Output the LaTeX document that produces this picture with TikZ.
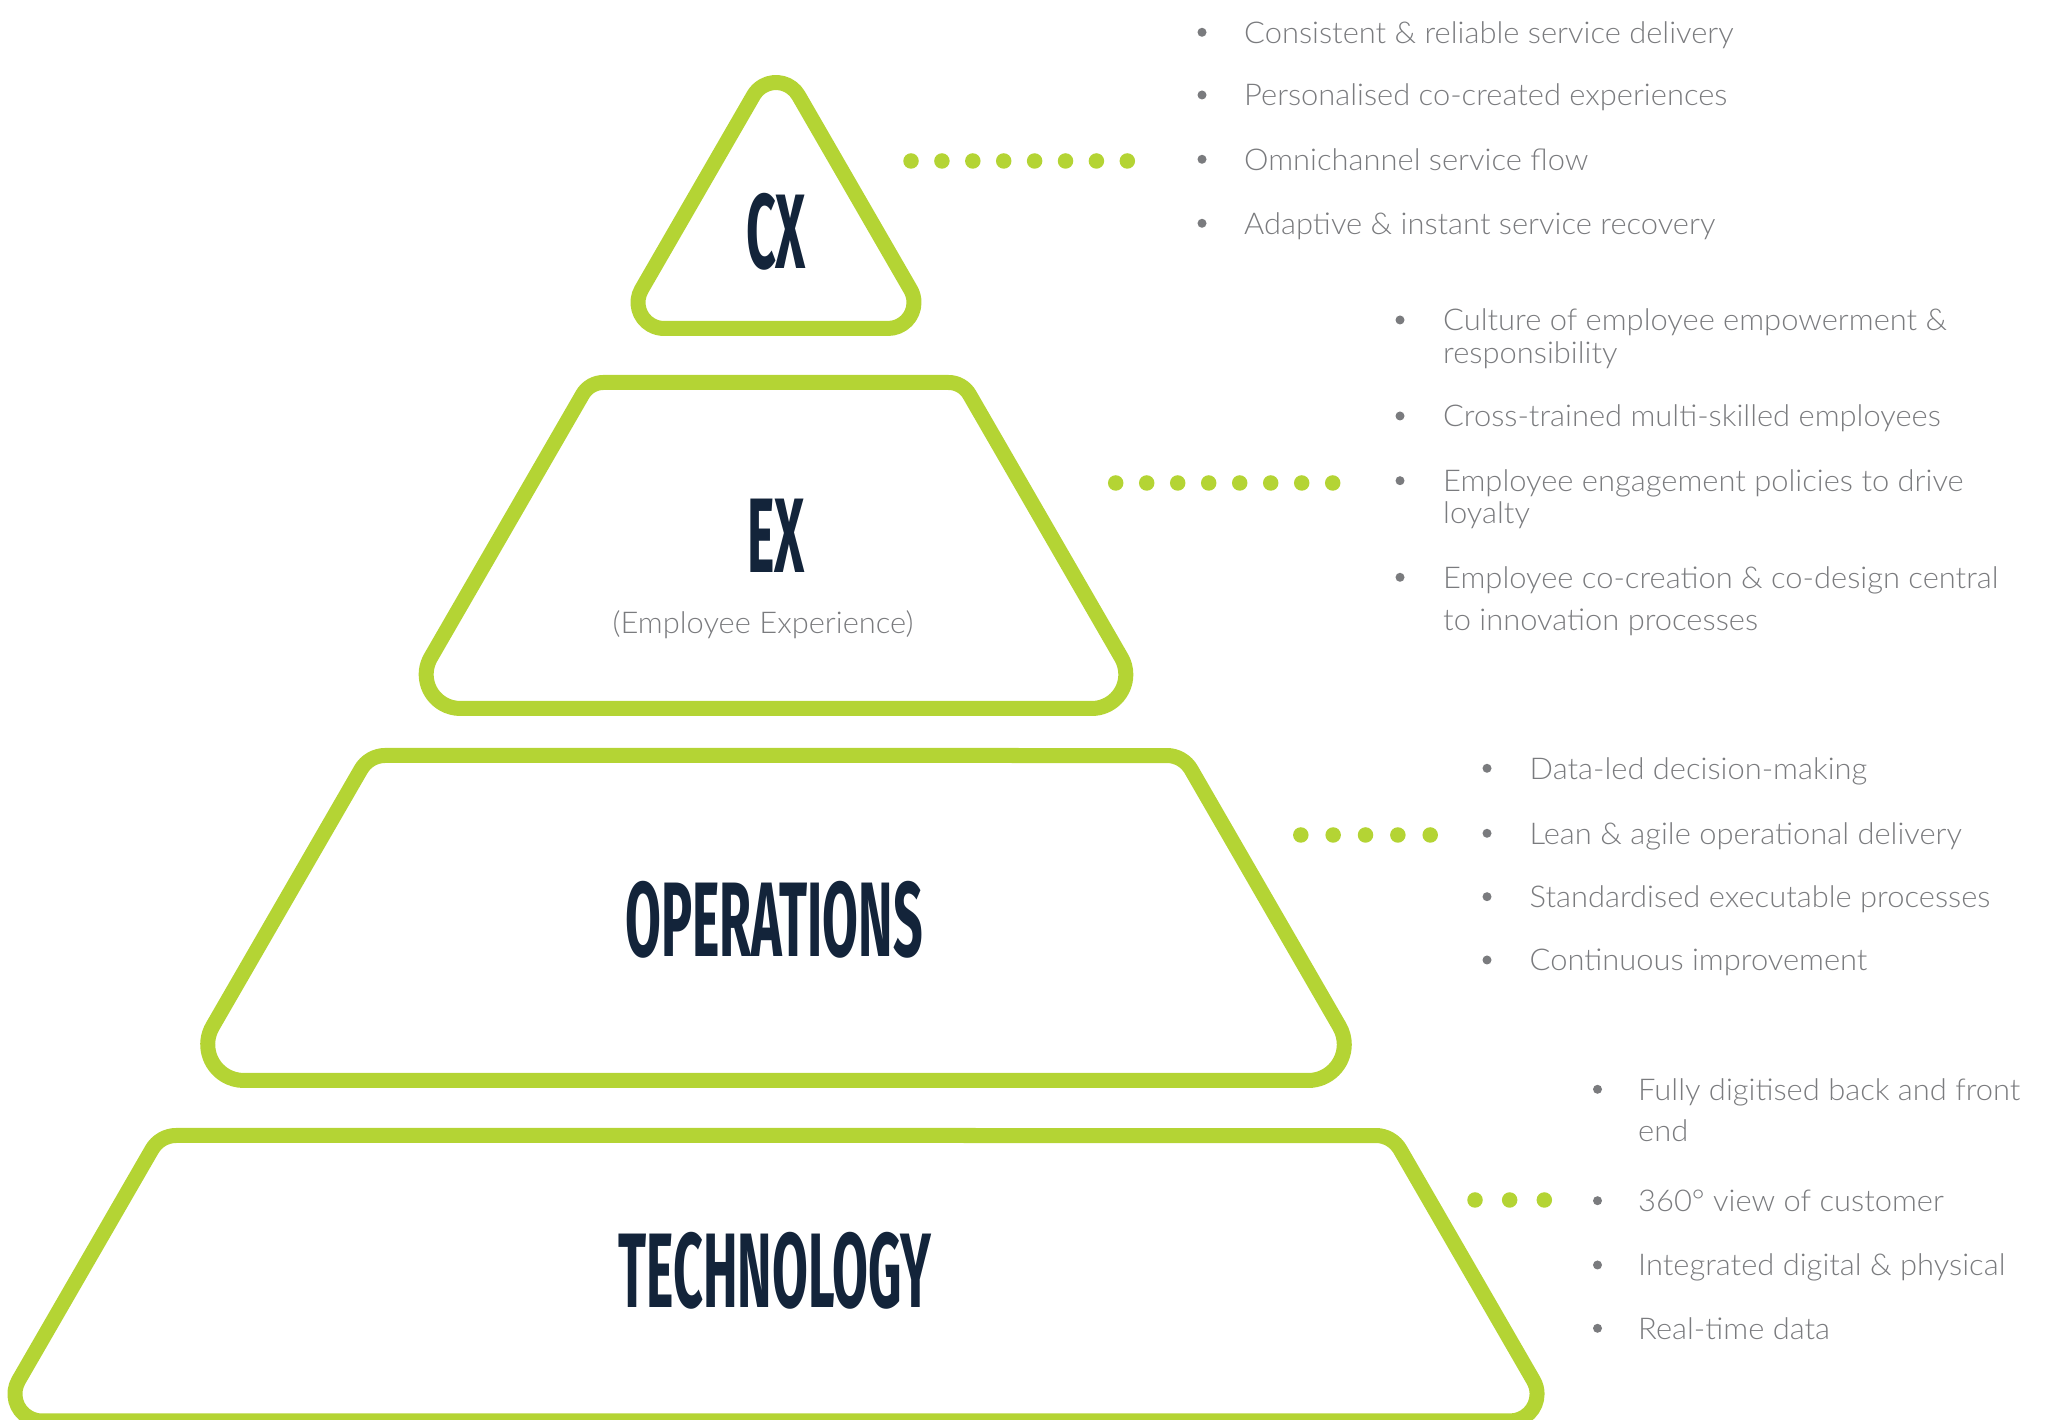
\documentclass[tikz,border=0pt]{standalone}
\usepackage{fontspec}
\setmainfont{Lato}
\newfontfamily\headfont[FakeStretch=0.49]{Fira Sans}
\IfFontExistsTF{Lato Light}
  {\newfontfamily\listfont[FakeStretch=1.03]{Lato Light}}
  {\newfontfamily\listfont[FakeStretch=1.03]{Lato}}

\definecolor{pyrgreen}{RGB}{180,212,52}
\definecolor{pyrnavy}{RGB}{19,36,58}
\definecolor{listgrey}{RGB}{122,123,126}

\tikzset{
  band/.style={draw=pyrgreen, line width=15pt, line join=round},
  heading/.style={font=\headfont\bfseries\fontsize{106}{106}\selectfont, text=pyrnavy, inner sep=0pt},
  listline/.style={font=\listfont\fontsize{30}{33}\selectfont, text=listgrey, anchor=base west, inner sep=0pt},
  leader/.style={draw=pyrgreen, line width=15.5pt, line cap=round},
  bulletdot/.style={fill=listgrey},
}

\begin{document}
\begin{tikzpicture}[x=1pt, y=1pt]
    \useasboundingbox (0,0) rectangle (2046,1420);
    \clip (0,0) rectangle (2046,1420);

    % top of the pyramid
    \draw [band] (664,1091.5) -- (888,1091.5) arc[start angle=-90, end angle=30, radius=26pt]
        -- ++(120:224pt) arc[start angle=30, end angle=150, radius=26pt]
        -- ++(240:224pt) arc[start angle=150, end angle=270, radius=26pt] -- cycle;

    % the three lower bands: top y / bottom y / top half width / top radius / bottom radius
    \foreach \ytop/\ybot/\wtop/\rtop/\rbot in {1037.5/711.5/186.5/24/34, 664.5/339.5/407/28/36, 284.5/-1/616/28/27} {
        \pgfmathsetmacro\wbot{\wtop+0.57735*(\ytop-\ybot)}
        \pgfmathsetmacro\ctop{0.57735*\rtop}
        \pgfmathsetmacro\cbot{1.73205*\rbot}
        \pgfmathsetmacro\slen{(\ytop-\ybot)/0.86603-\ctop-\cbot}
        \draw [band] ({776-\wbot+\cbot},\ybot) -- ({776+\wbot-\cbot},\ybot)
            arc[start angle=-90, end angle=30, radius=\rbot pt] -- ++(120:\slen pt)
            arc[start angle=30, end angle=90, radius=\rtop pt] -- ({776-\wtop+\ctop},\ytop)
            arc[start angle=90, end angle=150, radius=\rtop pt] -- ++(240:\slen pt)
            arc[start angle=150, end angle=270, radius=\rbot pt] -- cycle;
    }

    \node [heading] (cx) at (776,1188) {CX};
    \node [heading] (ex) at (776,884) {EX};
    \node [font=\listfont\fontsize{30}{33}\selectfont, text=listgrey, inner sep=0pt] (exfull) at (763,795) {(Employee Experience)};
    \node [heading] (ops) at (774,500) {OPERATIONS};
    \node [heading] (tech) at (775,149) {TECHNOLOGY};

    % dotted leaders
    \coordinate (cxdotsA) at (911,1259);
    \coordinate (cxdotsB) at (1128.3,1259);
    \coordinate (exdotsA) at (1115.7,937);
    \coordinate (exdotsB) at (1333.7,937);
    \coordinate (opsdotsA) at (1300.8,585);
    \coordinate (opsdotsB) at (1431.2,585);
    \coordinate (techdotsA) at (1475,220);
    \coordinate (techdotsB) at (1545.3,220);
    \draw [leader, dash pattern=on 0pt off 30.9pt] (cxdotsA) -- (cxdotsB);
    \draw [leader, dash pattern=on 0pt off 31pt] (exdotsA) -- (exdotsB);
    \draw [leader, dash pattern=on 0pt off 32.35pt] (opsdotsA) -- (opsdotsB);
    \draw [leader, dash pattern=on 0pt off 34.65pt] (techdotsA) -- (techdotsB);

    % CX list
    \fill [bulletdot] (1202,1387.7) circle [radius=4.5pt];
    \fill [bulletdot] (1202,1325) circle [radius=4.5pt];
    \fill [bulletdot] (1202,1260.7) circle [radius=4.5pt];
    \fill [bulletdot] (1202,1196.7) circle [radius=4.5pt];
    \node [listline] (cx1) at (1244,1376.7) {Consistent \& reliable service delivery};
    \node [listline] (cx2) at (1244,1314) {Personalised co-created experiences};
    \node [listline] (cx3) at (1244,1249.7) {Omnichannel service flow};
    \node [listline] (cx4) at (1244,1185.7) {Adaptive \& instant service recovery};

    % EX list
    \fill [bulletdot] (1400,1100) circle [radius=4.5pt];
    \fill [bulletdot] (1400,1004) circle [radius=4.5pt];
    \fill [bulletdot] (1400,939.3) circle [radius=4.5pt];
    \fill [bulletdot] (1400,842.7) circle [radius=4.5pt];
    \node [listline] (ex1) at (1443,1089) {Culture of employee empowerment \&};
    \node [listline] (ex1b) at (1443,1056) {responsibility};
    \node [listline] (ex2) at (1443,993) {Cross-trained multi-skilled employees};
    \node [listline] (ex3) at (1443,928.3) {Employee engagement policies to drive};
    \node [listline] (ex3b) at (1443,896) {loyalty};
    \node [listline] (ex4) at (1443,831.7) {Employee co-creation \& co-design central};
    \node [listline] (ex4b) at (1443,789) {to innovation processes};

    % OPERATIONS list
    \fill [bulletdot] (1487,651.7) circle [radius=4.5pt];
    \fill [bulletdot] (1487,586.7) circle [radius=4.5pt];
    \fill [bulletdot] (1487,523.3) circle [radius=4.5pt];
    \fill [bulletdot] (1487,460) circle [radius=4.5pt];
    \node [listline] (ops1) at (1529.5,640.7) {Data-led decision-making};
    \node [listline] (ops2) at (1529.5,575.7) {Lean \& agile operational delivery};
    \node [listline] (ops3) at (1529.5,512.3) {Standardised executable processes};
    \node [listline] (ops4) at (1529.5,449) {Continuous improvement};

    % TECHNOLOGY list
    \fill [bulletdot] (1597.5,330.7) circle [radius=4.5pt];
    \fill [bulletdot] (1597.5,219.3) circle [radius=4.5pt];
    \fill [bulletdot] (1597.5,155) circle [radius=4.5pt];
    \fill [bulletdot] (1597.5,91.7) circle [radius=4.5pt];
    \node [listline] (tech1) at (1638,319.7) {Fully digitised back and front};
    \node [listline] (tech1b) at (1638,278.7) {end};
    \node [listline] (tech2) at (1638,208.3) {360° view of customer};
    \node [listline] (tech3) at (1638,144) {Integrated digital \& physical};
    \node [listline] (tech4) at (1638,80.7) {Real-time data};
\end{tikzpicture}
\end{document}
